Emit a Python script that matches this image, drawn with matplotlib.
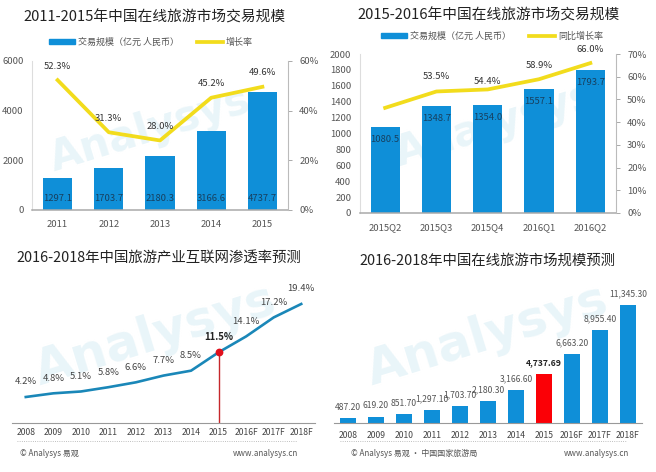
import matplotlib
matplotlib.use('Agg')
import matplotlib.pyplot as plt
from matplotlib.patches import Patch
from matplotlib.lines import Line2D
import numpy as np

plt.rcParams['font.family'] = ['Noto Sans CJK SC', 'DejaVu Sans']

W, H = 656, 472
BLUE = '#0f8fd8'
YELLOW = '#f2dc1c'
GREY = '#555555'
DARK = '#222222'
NAVY = '#17405f'

years_a = ['2011', '2012', '2013', '2014', '2015']
size_a = [1297.1, 1703.7, 2180.3, 3166.6, 4737.7]
growth_a = [52.3, 31.3, 28.0, 45.2, 49.6]

quarters_b = ['2015Q2', '2015Q3', '2015Q4', '2016Q1', '2016Q2']
size_b = [1080.5, 1348.7, 1354.0, 1557.1, 1793.7]
growth_b = [46.3, 53.5, 54.4, 58.9, 66.0]
growth_b_labels = ['', '53.5%', '54.4%', '58.9%', '66.0%']

years_long = ['2008', '2009', '2010', '2011', '2012', '2013', '2014', '2015', '2016F', '2017F', '2018F']
rate_c = [4.2, 4.8, 5.1, 5.8, 6.6, 7.7, 8.5, 11.5, 14.1, 17.2, 19.4]
size_d = [487.2, 619.2, 851.7, 1297.1, 1703.7, 2180.3, 3166.6, 4737.69, 6663.2, 8955.4, 11345.3]


def px_axes(fig, left, top, right, bottom):
    # pixel box, y counted from the top of the picture
    ax = fig.add_axes([left / W, 1 - bottom / H, (right - left) / W, (bottom - top) / H])
    ax.patch.set_alpha(0)
    return ax


def px_text(fig, x, y, s, **kw):
    kw.setdefault('ha', 'center')
    kw.setdefault('va', 'center')
    return fig.text(x / W, 1 - y / H, s, **kw)


def watermark(fig, x, y, size):
    px_text(fig, x, y, 'Analysys', fontsize=size, color='#e9f5f9', rotation=17,
            fontweight='bold', family='DejaVu Sans', zorder=-1)


def combo(fig, box, cats, sizes, growth, growth_labels, ymax, ystep, rmax, rstep,
          bar_label_mode, line_name, legend_y, legend_x, label_shift):
    ax = px_axes(fig, *box)
    x = np.arange(len(cats))
    ax.bar(x, sizes, 0.57, color=BLUE, zorder=2)
    ax.set_xlim(-0.5, len(cats) - 0.5)
    ax.set_ylim(0, ymax)
    ax.set_xticks(x)
    ax.set_xticklabels(cats)
    ax.set_yticks(np.arange(0, ymax + 1, ystep))
    ax.tick_params(axis='x', length=0, pad=7, labelsize=6.8, colors=GREY)
    ax.tick_params(axis='y', length=0, pad=6, labelsize=6.8, colors=GREY)
    for side in ['top', 'right']:
        ax.spines[side].set_visible(False)
    ax.spines['left'].set_color('#dddddd')
    ax.spines['bottom'].set_color('#aaaaaa')
    ax.spines['bottom'].set_linewidth(1.1)

    ax2 = ax.twinx()
    ax2.patch.set_alpha(0)
    ax2.plot(x, growth, color=YELLOW, lw=2.7, solid_joinstyle='round', zorder=3)
    ax2.set_ylim(0, rmax)
    ticks = np.arange(0, rmax + 1, rstep)
    ax2.set_yticks(ticks)
    ax2.set_yticklabels(['%d%%' % t for t in ticks])
    ax2.tick_params(axis='y', length=3, width=0.7, color='#aaaaaa', pad=5, labelsize=6.8, labelcolor=GREY)
    for side in ['top', 'left', 'bottom']:
        ax2.spines[side].set_visible(False)
    ax2.spines['right'].set_color('#bbbbbb')

    for i, v in enumerate(sizes):
        if bar_label_mode == 'bottom':
            ax.annotate('%.1f' % v, (i, 0), xytext=(0, 8.6), textcoords='offset points',
                        ha='center', va='center', fontsize=6.8, color=NAVY, zorder=5)
        else:
            ax.annotate('%.1f' % v, (i, v), xytext=(0, -9), textcoords='offset points',
                        ha='center', va='center', fontsize=6.8, color=NAVY, zorder=5)
    for i, (g, s) in enumerate(zip(growth, growth_labels)):
        ax2.annotate(s, (i, g), xytext=(0, label_shift[i]), textcoords='offset points',
                     ha='center', va='center', fontsize=6.8, color='#333333', zorder=6)

    handles = [Patch(color=BLUE, label='交易规模（亿元 人民币）'),
               Line2D([0], [0], color=YELLOW, lw=2.7, label=line_name)]
    fig.legend(handles=handles, ncol=2, frameon=False, fontsize=6.5, labelcolor=GREY,
               loc='center', bbox_to_anchor=(legend_x / W, 1 - legend_y / H),
               handlelength=2.9, handleheight=0.5, handletextpad=0.3, columnspacing=2.0)


fig = plt.figure(figsize=(W / 100, H / 100), dpi=100, facecolor='white')

watermark(fig, 150, 130, 30)
watermark(fig, 495, 125, 30)
watermark(fig, 155, 335, 36)
watermark(fig, 487, 335, 36)

# top left
px_text(fig, 154, 17, '2011-2015年中国在线旅游市场交易规模', fontsize=10.6, color=DARK)
combo(fig, (32, 61, 288, 210), years_a, size_a, growth_a, ['%.1f%%' % g for g in growth_a],
      6000, 2000, 60, 20, 'bottom', '增长率', 42, 151, [9.5, 10, 9.7, 10, 10])

# top right
px_text(fig, 489, 15, '2015-2016年中国在线旅游市场交易规模', fontsize=10.6, color=DARK)
combo(fig, (359.5, 54, 616, 213), quarters_b, size_b, growth_b, growth_b_labels,
      2000, 200, 70, 10, 'top', '同比增长率', 36, 492, [0, 11, 6, 10, 9.5])

# bottom left
px_text(fig, 159, 258, '2016-2018年中国旅游产业互联网渗透率预测', fontsize=10.4, color=DARK)
ax3 = px_axes(fig, 12, 290, 315, 422.7)
x3 = np.arange(len(years_long))
ax3.plot(x3, rate_c, color='#1a87b8', lw=1.9, solid_joinstyle='round', zorder=3)
ax3.set_xlim(-0.5, len(x3) - 0.5)
ax3.set_ylim(0, 132.7 / 6.12)
hi = years_long.index('2015')
ax3.vlines(x3[hi], 0, rate_c[hi], color='#c6282b', lw=1.0, zorder=2)
ax3.plot(x3[hi], rate_c[hi], 'o', color='#e0101c', ms=4.6, zorder=4)
for i, v in enumerate(rate_c):
    bold = i == hi
    ax3.annotate('%.1f%%' % v, (i, v), xytext=(0, 10.8), textcoords='offset points', ha='center', va='center',
                 fontsize=6.8 if not bold else 6.9, color=DARK if bold else '#444444',
                 fontweight='bold' if bold else 'normal')
ax3.set_xticks(x3)
ax3.set_xticklabels(years_long)
ax3.set_yticks([])
ax3.tick_params(axis='x', length=0, pad=4, labelsize=6.2, colors='#444444')
for side in ['top', 'left', 'right']:
    ax3.spines[side].set_visible(False)
ax3.spines['bottom'].set_color('#999999')

# bottom right
px_text(fig, 487, 261, '2016-2018年中国在线旅游市场规模预测', fontsize=10.4, color=DARK)
ax4 = px_axes(fig, 334, 290, 642, 423.3)
x4 = np.arange(len(years_long))
colors4 = [BLUE] * len(x4)
colors4[hi] = '#fb0006'
ax4.bar(x4, size_d, 0.55, color=colors4, zorder=2)
ax4.set_xlim(-0.5, len(x4) - 0.5)
ax4.set_ylim(0, 133.3 / 0.0104)
for i, v in enumerate(size_d):
    bold = i == hi
    ax4.annotate(format(v, ',.2f'), (i, v), xytext=(0, 8), textcoords='offset points', ha='center', va='center',
                 fontsize=6.2, color=DARK if bold else '#555555', fontweight='bold' if bold else 'normal')
ax4.set_xticks(x4)
ax4.set_xticklabels(years_long)
ax4.set_yticks([])
ax4.tick_params(axis='x', length=0, pad=5.5, labelsize=6.2, colors='#444444')
for side in ['top', 'left', 'right']:
    ax4.spines[side].set_visible(False)
ax4.spines['bottom'].set_color('#999999')

# footers
fig.add_artist(Line2D([17 / W, 297 / W], [1 - 441 / H] * 2, color='#aaaaaa', lw=0.6, ls=':'))
fig.add_artist(Line2D([340 / W, 626 / W], [1 - 441 / H] * 2, color='#aaaaaa', lw=0.6, ls=':'))
px_text(fig, 20, 453, '© Analysys 易观', ha='left', fontsize=5.8, color='#555555')
px_text(fig, 233, 453, 'www.analysys.cn', ha='left', fontsize=5.8, color='#555555')
px_text(fig, 351, 453, '© Analysys 易观 · 中国国家旅游局', ha='left', fontsize=5.8, color='#555555')
px_text(fig, 564, 453, 'www.analysys.cn', ha='left', fontsize=5.8, color='#555555')

fig.savefig('out.png', dpi=100)
